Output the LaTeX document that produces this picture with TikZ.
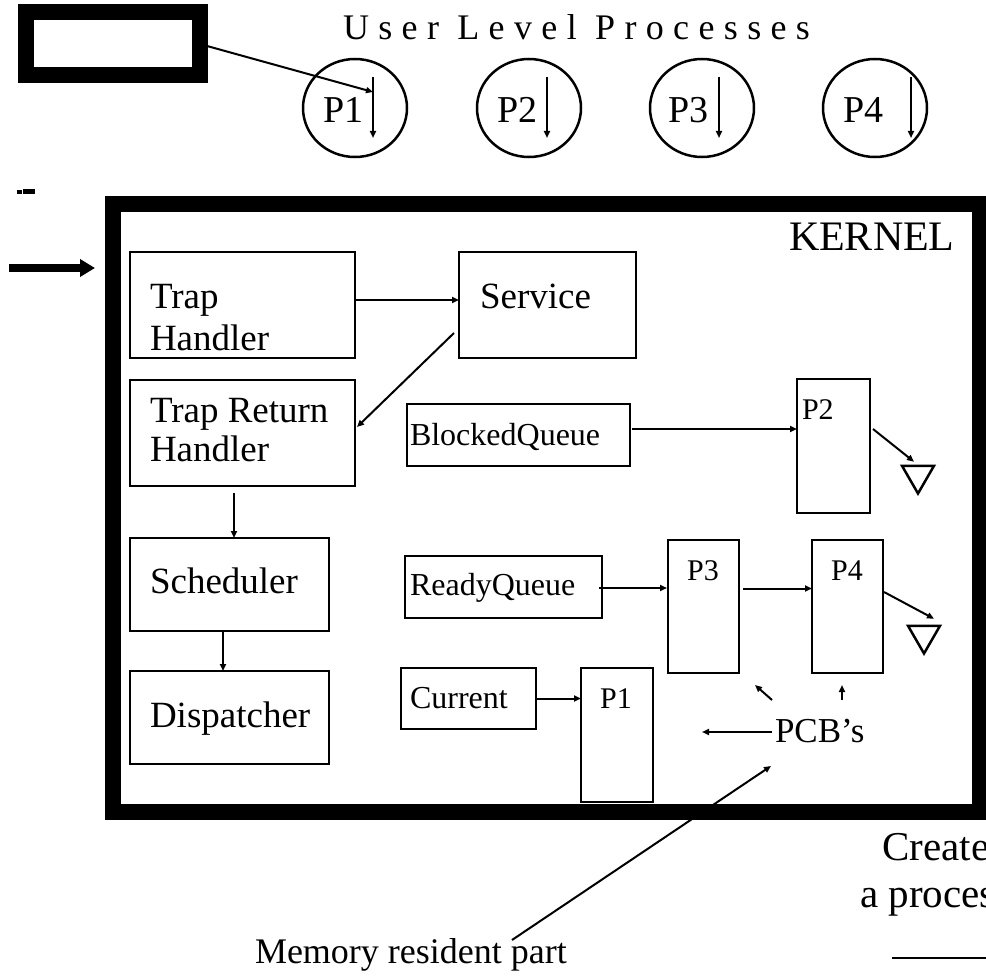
\documentclass[tikz,border=0pt]{standalone}
\usepackage{fontspec}
\setmainfont{Liberation Serif}
\usetikzlibrary{arrows.meta,calc,shapes.geometric}

\begin{document}
\begin{tikzpicture}[x=1pt,y=-1pt,
  every node/.style={inner sep=0pt, outer sep=0pt},
  lbl/.style={anchor=base west, font=\fontsize{37}{40}\selectfont},
  slbl/.style={anchor=base west, font=\fontsize{32}{36}\selectfont},
  pcblbl/.style={anchor=base, font=\fontsize{30}{34}\selectfont},
  box/.style={draw, line width=2.5pt, anchor=north west},
  frame/.style={draw, line width=16pt, anchor=north west},
  proc/.style={draw, ellipse, line width=2.5pt, minimum width=104pt, minimum height=98pt},
  sink/.style={draw, line width=2.5pt, regular polygon, regular polygon sides=3,
               regular polygon rotate=180, minimum size=37pt},
  arr/.style={line width=2pt, -{Triangle[length=7pt,width=6pt]}}
]
\useasboundingbox (0,0) rectangle (986,979);

% ---------- user level ----------
\node[frame, minimum width=173.5pt, minimum height=63.5pt] (tl) at (26,12) {};
\node[anchor=base west, font=\fontsize{36}{40}\selectfont\addfontfeatures{LetterSpace=26}]
  (ulp) at (343,40) {User Level Processes};

\foreach \i/\cx/\ax/\tx in {1/355/18/-32, 2/529/18/-32, 3/702/17/-34, 4/875/36/-32} {
  \node[proc] (c\i) at (\cx,108) {};
  \node[anchor=base west, font=\fontsize{38}{40}\selectfont] (pl\i) at ($(c\i.center)+(\tx,15)$) {P\i};
  \coordinate (ctop\i) at ($(c\i.center)+(\ax,-31)$);
  \coordinate (cbot\i) at ($(c\i.center)+(\ax,30)$);
  \draw[arr] (ctop\i) -- (cbot\i);
}
\coordinate (hit1) at ($(c1.center)+(18,-16)$);
\draw[arr] ($(tl.east)+(7.5,2.25)$) -- (hit1);

% small mark at the left margin
\fill (17,190) rectangle (22,194);
\fill (23,189.5) rectangle (35,194.5);

% ---------- kernel ----------
\node[frame, minimum width=867pt, minimum height=607pt] (kernel) at (113,204.5) {};
\node[anchor=base west, font=\fontsize{42}{46}\selectfont] (kname) at (789,251) {KERNEL};

\coordinate (entry) at (9,268);
\draw[line width=8pt, -{Triangle[length=15pt,width=17pt]}]
  (entry) -- ($(kernel.west |- entry)+(-18,0)$);

% left column
\node[box, minimum width=225pt, minimum height=106pt] (th) at (130,252) {};
\node[lbl] (thl1) at (150,308) {Trap};
\node[lbl] (thl2) at (150,350) {Handler};

\node[box, minimum width=177pt, minimum height=106pt] (svc) at (459,252) {};
\node[lbl] (svcl) at (480,308) {Service};

\node[box, minimum width=225pt, minimum height=106pt] (trh) at (130,380) {};
\node[lbl] (trhl1) at (150,422) {Trap Return};
\node[lbl] (trhl2) at (150,461) {Handler};

\node[box, minimum width=199pt, minimum height=93pt] (sched) at (130,538) {};
\node[lbl] (schedl) at (150,593) {Scheduler};

\node[box, minimum width=199pt, minimum height=93pt] (disp) at (130,671) {};
\node[lbl] (displ) at (150,727) {Dispatcher};

\draw[arr] ($(th.east)+(0,-5)$) -- ($(svc.west)+(0,-5)$);
\draw[arr] ($(svc.south west)+(-5,-25)$) -- ($(trh.east)+(2,-6)$);
\draw[arr] ($(trh.south)+(-8.5,7)$) -- ($(sched.north)+(4.5,0)$);
\draw[arr] ($(sched.south)+(-6.5,0)$) -- ($(disp.north)+(-6.5,0)$);

% queues
\node[box, minimum width=223pt, minimum height=62pt] (bq) at (407,404) {};
\node[slbl] (bql) at (410,445) {BlockedQueue};

\node[box, minimum width=197pt, minimum height=62pt] (rq) at (405,556) {};
\node[slbl] (rql) at (410,595) {ReadyQueue};

\node[box, minimum width=135pt, minimum height=61pt] (cur) at (401,668) {};
\node[slbl] (curl) at (410,708) {Current};

% PCBs
\node[box, minimum width=73pt, minimum height=134pt] (p2b) at (797,379) {};
\node[anchor=base west, font=\fontsize{30}{34}\selectfont] (p2l) at (802,419) {P2};

\node[box, minimum width=71pt, minimum height=133pt] (p3b) at (668,540) {};
\node[pcblbl] (p3l) at (703,580) {P3};

\node[box, minimum width=71pt, minimum height=133pt] (p4b) at (812,540) {};
\node[pcblbl] (p4l) at (847,580) {P4};

\node[box, minimum width=72pt, minimum height=134pt] (p1b) at (581,668) {};
\node[pcblbl] (p1l) at (616,708) {P1};

\node[sink] (tri1) at (918,475) {};
\node[sink] (tri2) at (924,635) {};

\draw[arr] ($(bq.east)+(2,-6)$) -- ($(bq.east -| p2b.west)+(0,-6)$);
\draw[arr] ($(rq.east)+(-3,1)$) -- ($(rq.east -| p3b.west)+(-1,1)$);
\draw[arr] ($(p3b.east)+(4,-18)$) -- ($(p4b.west)+(0,-18)$);
\draw[arr] (cur.east) -- (cur.east -| p1b.west);
\draw[arr] ($(p2b.east)+(3,-17)$) -- ($(tri1.north)+(-4,-4)$);
\draw[arr] ($(p4b.east)+(1,-14.5)$) -- ($(tri2.north)+(10,-7)$);

% PCB's label and its pointers
\node[anchor=base west, font=\fontsize{35}{40}\selectfont] (pcb) at (775,742) {PCB’s};
\coordinate (toP1) at ($(pcb.base west)+(-73,-10)$);
\coordinate (toP3) at ($(pcb.base west)+(-20,-57)$);
\coordinate (toP4) at ($(pcb.base west)+(67,-57)$);
\draw[arr] ($(pcb.base west)+(-3,-10)$) -- (toP1);
\draw[arr] ($(pcb.base west)+(-3,-42)$) -- (toP3);
\draw[arr] ($(pcb.base west)+(67,-42)$) -- (toP4);

% ---------- below the kernel ----------
\node[anchor=base west, font=\fontsize{36}{40}\selectfont] (mem) at (255,963) {Memory resident part};
\draw[arr] ($(mem.base west)+(257,-23)$) -- ($(pcb.base west)+(-4,24)$);

\node[anchor=base, font=\fontsize{41}{46}\selectfont] (cr1) at (936,860) {Create};
\node[anchor=base, font=\fontsize{41}{46}\selectfont] (cr2) at (936,907) {a process};
\coordinate (rule1) at (892,958);
\coordinate (rule2) at (1000,958);
\draw[line width=2.5pt] (rule1) -- (rule2);
\end{tikzpicture}
\end{document}
